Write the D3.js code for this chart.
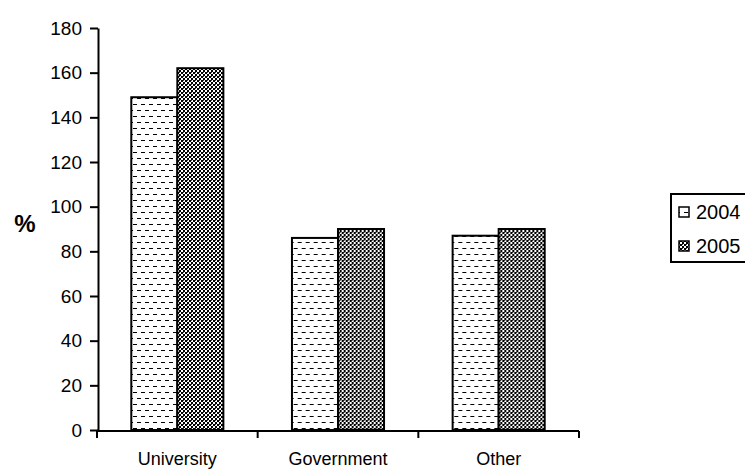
<!DOCTYPE html>
<html>
<head>
<meta charset="utf-8">
<script src="https://cdn.jsdelivr.net/npm/d3@7"></script>
<style>
  html, body { margin: 0; padding: 0; background: #fff; }
  svg { display: block; font-family: "Liberation Sans", Arial, sans-serif; }
</style>
</head>
<body>
<svg id="chart" width="745" height="470"></svg>
<script>
// Spending by sector, % values for two years
const categories = ["University", "Government", "Other"];
const seriesNames = ["2004", "2005"];
const values2004 = [149, 86, 87];
const values2005 = [162, 90, 90];
const yTicks = [0, 20, 40, 60, 80, 100, 120, 140, 160, 180];

const seriesValues = { "2004": values2004, "2005": values2005 };

const svg = d3.select("#chart");

// Fill patterns: dashed horizontal lines and a fine checker
const defs = svg.append("defs");
const pDash = defs.append("pattern")
  .attr("id", "pat2004").attr("patternUnits", "userSpaceOnUse")
  .attr("width", 8).attr("height", 12);
pDash.append("rect").attr("width", 8).attr("height", 12).attr("fill", "#fff");
pDash.append("rect").attr("x", 0).attr("y", 2).attr("width", 4).attr("height", 1).attr("fill", "#000");
pDash.append("rect").attr("x", 4).attr("y", 8).attr("width", 4).attr("height", 1).attr("fill", "#000");

const pCheck = defs.append("pattern")
  .attr("id", "pat2005").attr("patternUnits", "userSpaceOnUse")
  .attr("width", 4).attr("height", 4);
pCheck.append("rect").attr("width", 4).attr("height", 4).attr("fill", "#fff");
pCheck.append("rect").attr("x", 0).attr("y", 0).attr("width", 2).attr("height", 2).attr("fill", "#000");
pCheck.append("rect").attr("x", 2).attr("y", 2).attr("width", 2).attr("height", 2).attr("fill", "#000");
pCheck.append("rect").attr("x", 2).attr("y", 0).attr("width", 1).attr("height", 1).attr("fill", "#444");

const fills = { "2004": "url(#pat2004)", "2005": "url(#pat2005)" };

// Scales
const x0 = d3.scaleBand().domain(categories).range([97, 579]).paddingInner(0).paddingOuter(0);
const x1 = d3.scaleBand().domain(seriesNames).range([0, x0.bandwidth()]).paddingInner(0).paddingOuter(0.745);
const y = d3.scaleLinear().domain([0, 180]).range([430, 28]);

// Bars
const groups = svg.append("g").selectAll("g")
  .data(categories).join("g")
  .attr("transform", d => `translate(${x0(d)},0)`);

groups.selectAll("rect")
  .data((c, i) => seriesNames.map(s => ({ s, v: seriesValues[s][i] })))
  .join("rect")
  .attr("x", d => x1(d.s))
  .attr("y", d => y(d.v))
  .attr("width", x1.bandwidth())
  .attr("height", d => y(0) - y(d.v))
  .attr("fill", d => fills[d.s])
  .attr("stroke", "#000")
  .attr("stroke-width", 2);

// Y axis
const yAxis = svg.append("g")
  .attr("transform", "translate(98,0)")
  .call(d3.axisLeft(y).tickValues(yTicks).tickSize(8).tickSizeOuter(0).tickPadding(8));
yAxis.select(".domain").attr("stroke-width", 2).attr("stroke", "#000");
yAxis.selectAll(".tick line").attr("stroke-width", 2).attr("stroke", "#000");
yAxis.selectAll(".tick text").attr("font-size", 19).attr("fill", "#000")
  .attr("font-family", "Liberation Sans, Arial, sans-serif");

// X axis with ticks at category boundaries
const xAxisY = 431;
const xg = svg.append("g");
xg.append("line")
  .attr("x1", x0.range()[0] - 1).attr("x2", x0.range()[1])
  .attr("y1", xAxisY).attr("y2", xAxisY)
  .attr("stroke", "#000").attr("stroke-width", 2);
const bounds = categories.map(c => x0(c)).concat([x0.range()[1]]);
xg.selectAll(".bt").data(bounds).join("line")
  .attr("x1", d => d).attr("x2", d => d)
  .attr("y1", xAxisY).attr("y2", xAxisY + 7)
  .attr("stroke", "#000").attr("stroke-width", 2);
xg.selectAll(".cl").data(categories).join("text")
  .attr("x", d => x0(d) + x0.bandwidth() / 2)
  .attr("y", 465)
  .attr("text-anchor", "middle")
  .attr("font-size", 18)
  .text(d => d);

// Y axis title
svg.append("text")
  .attr("x", 25).attr("y", 232)
  .attr("text-anchor", "middle")
  .attr("font-size", 24).attr("font-weight", "bold")
  .text("%");

// Legend
const legend = svg.append("g");
legend.append("rect")
  .attr("x", 671).attr("y", 194).attr("width", 100).attr("height", 68)
  .attr("fill", "#fff").attr("stroke", "#000").attr("stroke-width", 2);
const legendRows = [
  { s: "2004", y: 212 },
  { s: "2005", y: 246 }
];
legend.selectAll(".sw").data(legendRows).join("rect")
  .attr("x", 679).attr("y", d => d.y - 5).attr("width", 10).attr("height", 10)
  .attr("fill", d => fills[d.s]).attr("stroke", "#000").attr("stroke-width", 1.5);
legend.selectAll(".lt").data(legendRows).join("text")
  .attr("x", 696).attr("y", d => d.y + 7)
  .attr("font-size", 20)
  .text(d => d.s);
</script>
</body>
</html>
